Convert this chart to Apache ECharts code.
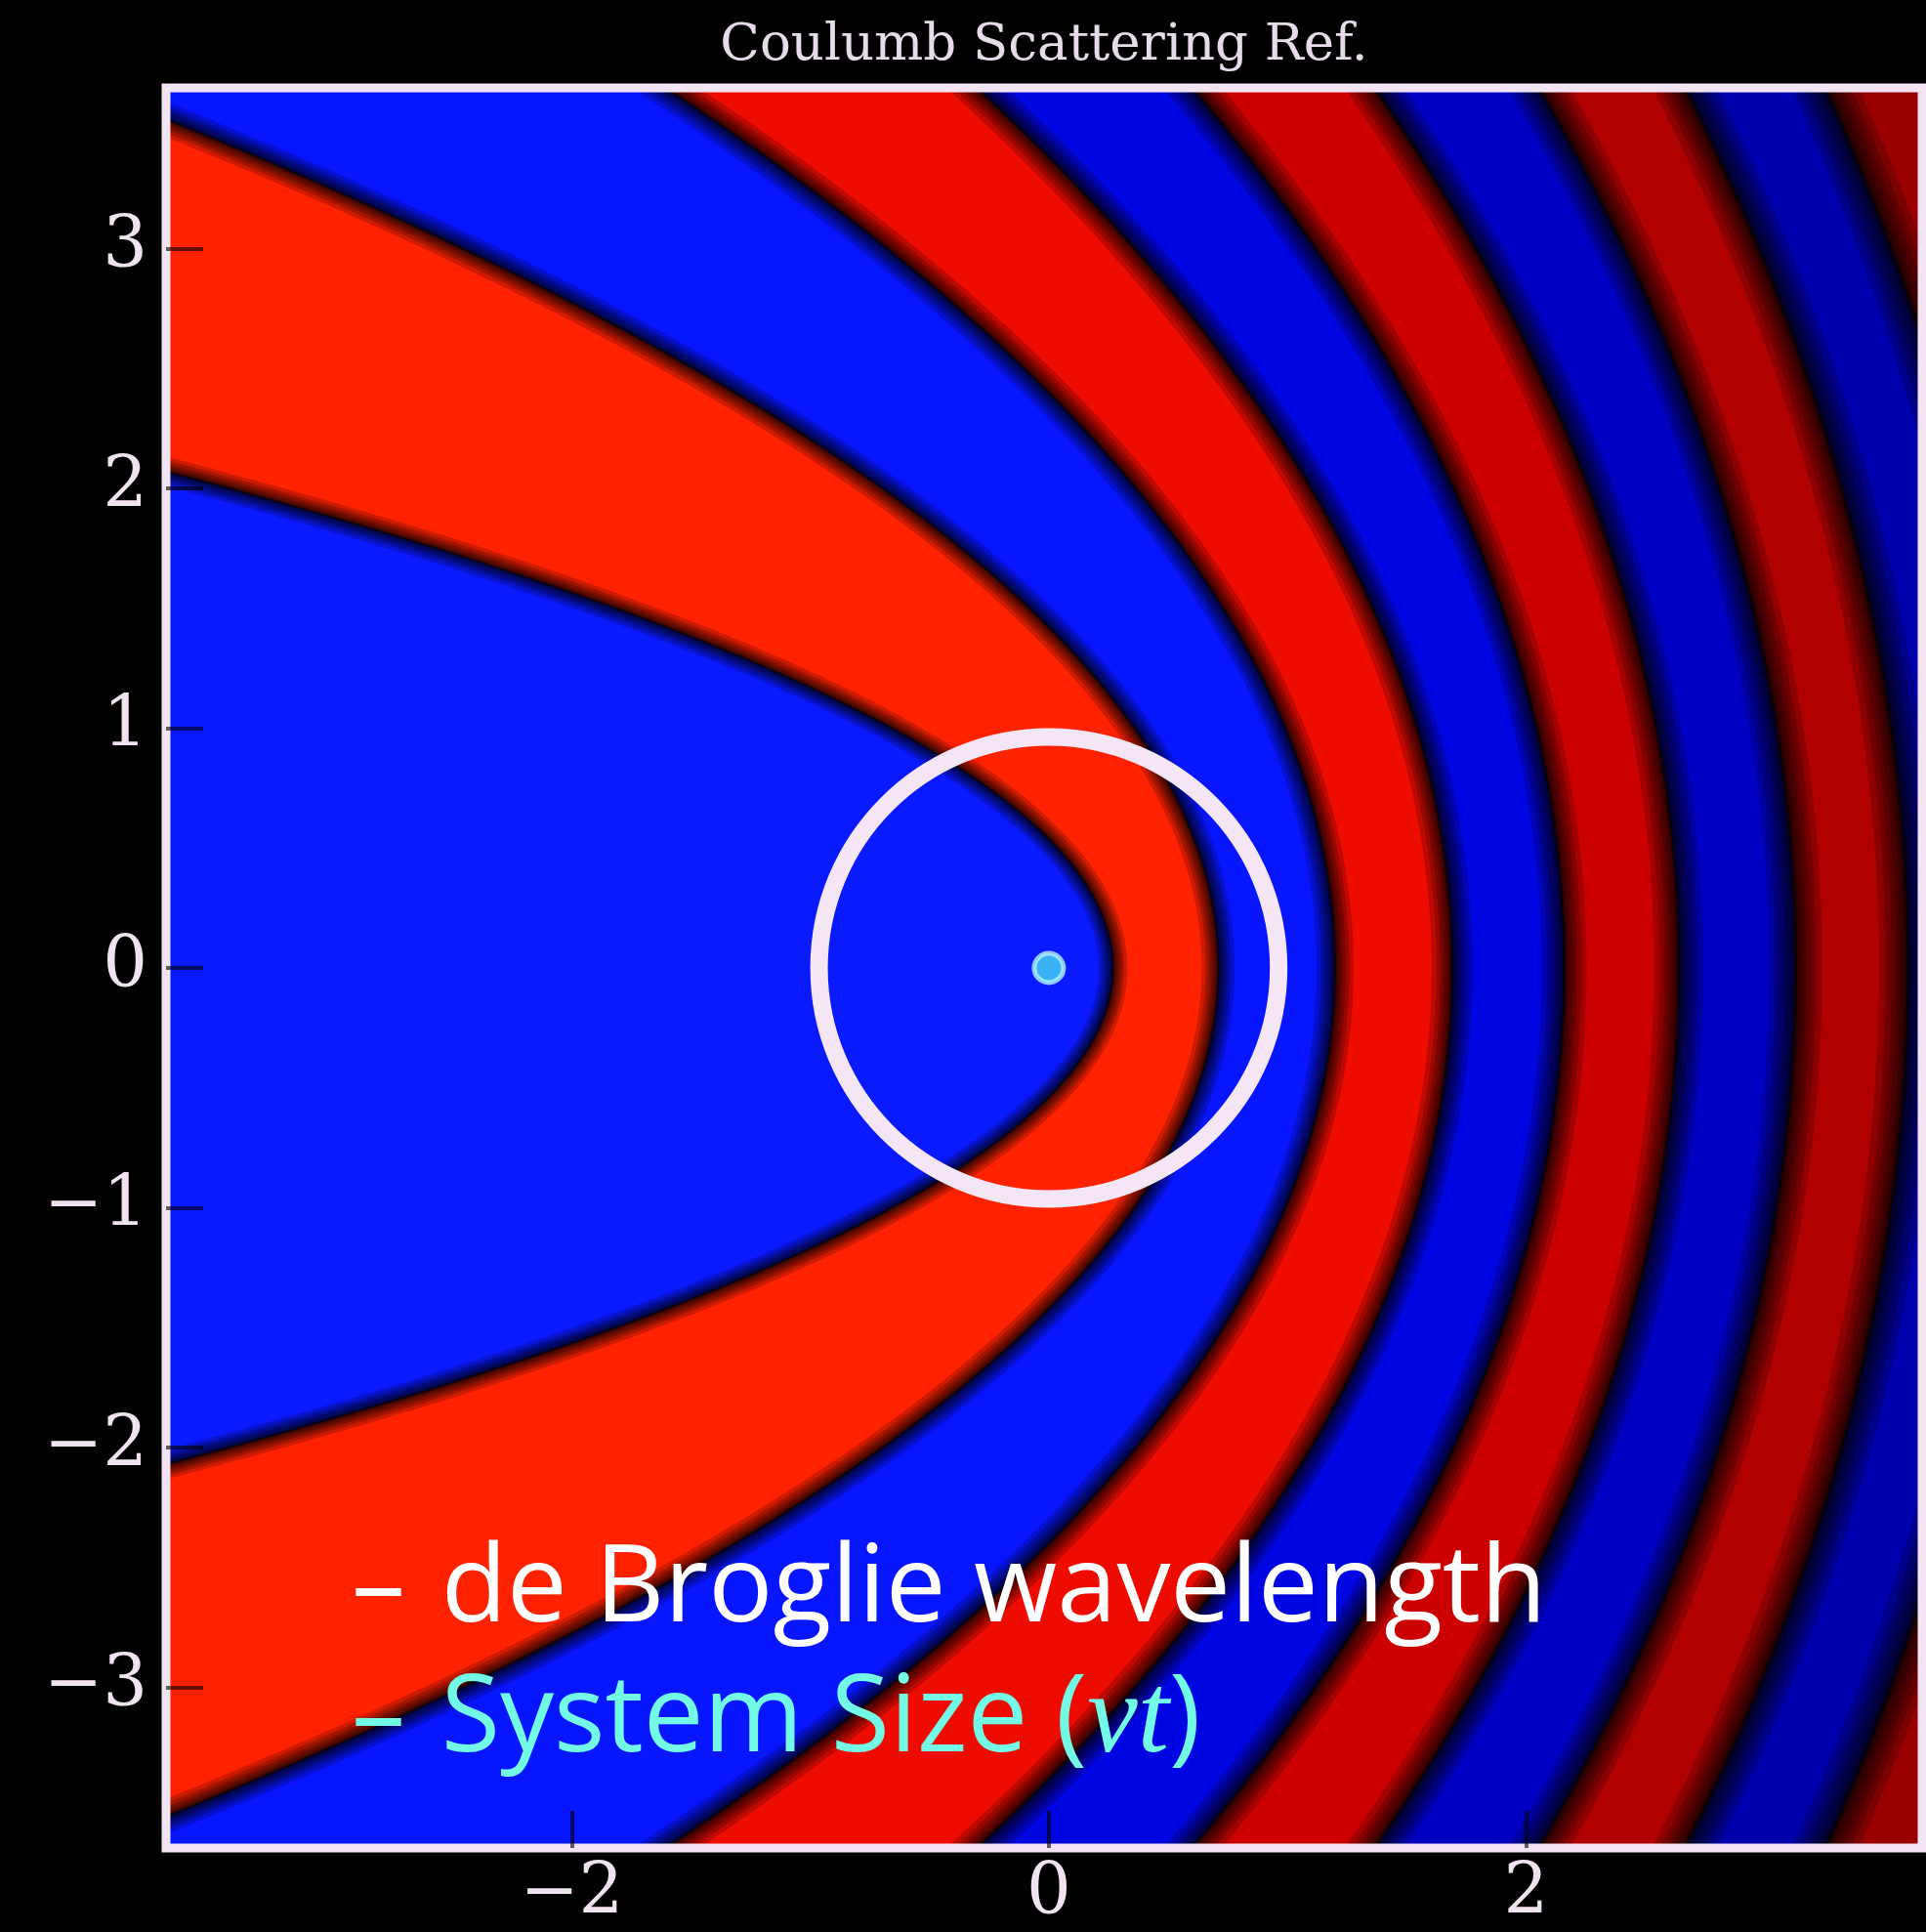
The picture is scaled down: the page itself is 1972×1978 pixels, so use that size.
<!DOCTYPE html>
<html>
<head>
<meta charset="utf-8">
<script src="https://cdn.jsdelivr.net/npm/echarts@6/dist/echarts.min.js"></script>
<style>
  html, body { margin: 0; padding: 0; background: #000; }
  #chart { width: 1972px; height: 1978px; }
</style>
</head>
<body>
<div id="chart"></div>
<script>
// ---------------- data ----------------
const xTicks = [-2, 0, 2];
const yTicks = [-3, -2, -1, 0, 1, 2, 3];
// x positions on the y = 0 axis where the wave changes sign (blue <-> red),
// from the centre outwards; each sign-change line is a parabola focused on the origin
const zeroCrossX = [0.27, 0.71, 1.20, 1.69, 2.16, 2.64, 3.13, 3.60, 4.08];
// system size circle: centre x, centre y, radius (vt)
const systemSize = [[0, 0, 1]];
// scattering centre
const scatterCentre = [[0, 0]];
const titleText = 'Coulumb Scattering Ref.';
const legendLine1 = 'de Broglie wavelength';
const legendLine2 = 'System Size';
const legendMath = 'vt';

// ---------------- styles ----------------
// band fill colours, from the innermost region outwards
const bandColors = ['#0a1aff', '#ff2200', '#0716ff', '#ee0c00', '#0006e2', '#cc0000',
                    '#0000c4', '#b00000', '#0000ac', '#9a0000'];
const frameColor = '#f2e4f3';
const labelColor = '#efe3f0';
const edgeLayers = [42, 32, 24, 17, 11, 6, 3];

const chart = echarts.init(document.getElementById('chart'), null, { renderer: 'canvas' });

function fmt(v) { return v < 0 ? '\u2212' + Math.abs(v) : String(v); }

function renderBand(params, api) {
  const i = params.dataIndex;
  const x0 = api.value(0);
  const s = 2 * x0;               // parabola level r + x = s
  const Y = 4.6, n = 180;
  const curve = [];
  for (let k = 0; k <= n; k++) {
    const y = Y - 2 * Y * k / n;
    curve.push(api.coord([(s * s - y * y) / (2 * s), y]));
  }
  const xEnd = (s * s - Y * Y) / (2 * s);
  const far = Math.min(xEnd, -4) - 6;
  const poly = curve.concat([api.coord([far, -Y]), api.coord([far, Y])]);
  const base = 1000 - i * 20;
  const cs = params.coordSys;
  const children = [];
  if (i === zeroCrossX.length - 1) {
    children.push({ type: 'rect', z2: 1,
      shape: { x: cs.x, y: cs.y, width: cs.width, height: cs.height },
      style: { fill: bandColors[i + 1] } });
  }
  children.push({ type: 'polygon', z2: base, shape: { points: poly },
    style: { fill: bandColors[i], stroke: null } });
  const sc = 0.7 + 0.1 * i;
  edgeLayers.forEach(function (w, j) {
    children.push({ type: 'polyline', z2: base + 1 + j, shape: { points: curve },
      style: { fill: 'none', stroke: j === edgeLayers.length - 1 ? 'rgba(0,0,0,0.5)' : 'rgba(0,0,0,0.2)',
               lineWidth: w * sc } });
  });
  return { type: 'group',
    clipPath: { type: 'rect', shape: { x: cs.x, y: cs.y, width: cs.width, height: cs.height } },
    children: children };
}

function renderCircle(params, api) {
  const c = api.coord([api.value(0), api.value(1)]);
  const r = api.size([api.value(2), api.value(2)]);
  const lw = 18;
  return { type: 'ellipse',
    shape: { cx: c[0], cy: c[1], rx: r[0] - lw / 2, ry: r[1] - lw / 2 },
    style: { fill: 'none', stroke: '#f5e6f5', lineWidth: lw } };
}

const axisLabelStyle = {
  fontFamily: 'DejaVu Serif', fontSize: 72, color: labelColor, formatter: fmt
};

const option = {
  backgroundColor: '#000000',
  animation: false,
  grid: {
    show: true, z: 10, left: 170, top: 90, width: 1798, height: 1802,
    borderColor: frameColor, borderWidth: 9, backgroundColor: 'rgba(0,0,0,0)'
  },
  xAxis: {
    type: 'value', min: -3.7, max: 3.66, z: 10, position: 'bottom',
    axisLine: { show: false, onZero: false }, splitLine: { show: false },
    axisTick: { show: true, inside: true, length: 38, customValues: xTicks,
                lineStyle: { color: 'rgba(0,0,0,0.6)', width: 4 } },
    axisLabel: Object.assign({ customValues: xTicks, margin: 12 }, axisLabelStyle)
  },
  yAxis: {
    type: 'value', min: -3.67, max: 3.67, z: 10, position: 'left',
    axisLine: { show: false, onZero: false }, splitLine: { show: false },
    axisTick: { show: true, inside: true, length: 38, customValues: yTicks,
                lineStyle: { color: 'rgba(0,0,0,0.6)', width: 4 } },
    axisLabel: Object.assign({ customValues: yTicks, margin: 19 }, axisLabelStyle)
  },
  series: [
    {
      name: 'wave', type: 'custom', z: 2, clip: true,
      encode: { x: 0, y: 1 },
      data: zeroCrossX.map(function (x) { return [x, 0]; }),
      renderItem: renderBand
    },
    {
      name: 'system size', type: 'custom', z: 11, clip: true,
      encode: { x: 0, y: 1 },
      data: systemSize,
      renderItem: renderCircle
    },
    {
      name: 'centre', type: 'scatter', z: 12,
      data: scatterCentre, symbol: 'circle', symbolSize: 30,
      itemStyle: { color: '#48d8f4', borderColor: '#b0f4ff', borderWidth: 5 }
    }
  ],
  graphic: [
    { type: 'text', x: 1069, y: 47, z: 100,
      style: { text: titleText, fontFamily: 'DejaVu Serif', fontSize: 53, fill: '#e6dbe8',
               align: 'center', verticalAlign: 'middle' } },
    { type: 'text', x: 360, y: 1629, z: 100,
      style: { text: '\u2013\u2004' + legendLine1, fontFamily: 'Open Sans', fontSize: 110, fill: '#ffffff',
               align: 'left', verticalAlign: 'middle' } },
    { type: 'text', x: 360, y: 1762, z: 100,
      style: { text: '{a|\u2013\u2004' + legendLine2 + ' (}{b|' + legendMath + '}{a|)}',
               align: 'left', verticalAlign: 'middle',
               rich: {
                 a: { fontFamily: 'Open Sans', fontSize: 110, fill: '#72fae6' },
                 b: { fontFamily: 'Liberation Serif', fontStyle: 'italic', fontSize: 116, fill: '#72fae6' }
               } } }
  ]
};
chart.setOption(option);
</script>
</body>
</html>
